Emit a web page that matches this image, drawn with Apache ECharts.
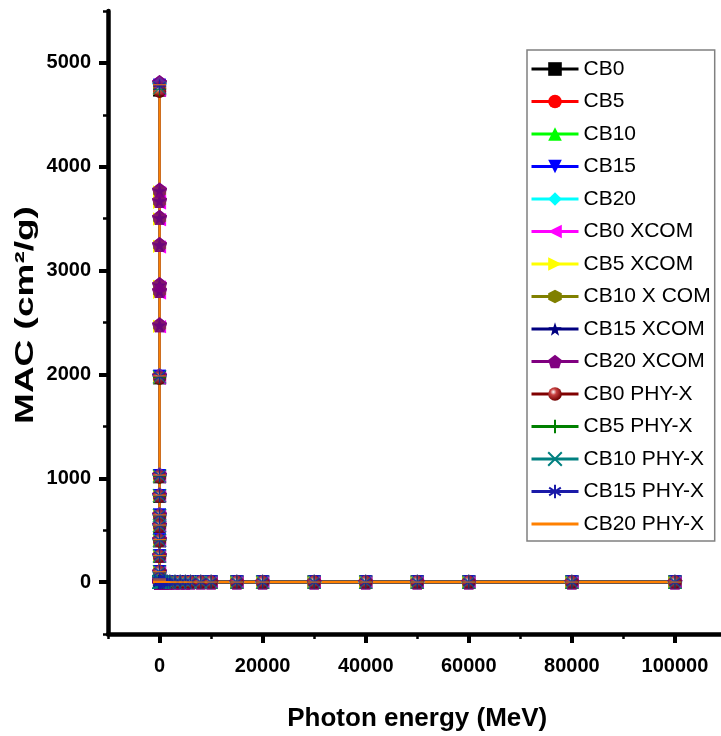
<!DOCTYPE html>
<html><head><meta charset="utf-8">
<script src="https://cdn.jsdelivr.net/npm/echarts@6/dist/echarts.min.js"></script>
<style>html,body{margin:0;padding:0;background:#fff}#c{width:721px;height:736px}</style>
</head><body><div id="c"></div>
<script>
// Photon energies (MeV) used by measured / PHY-X series
const energyGrid = [0.001,0.0015,0.002,0.003,0.004,0.005,0.006,0.008,0.01,0.015,0.02,0.03,0.04,0.05,0.06,0.08,
  0.1,0.15,0.2,0.3,0.4,0.5,0.6,0.8,1,1.25,1.5,2,3,4,5,6,8,10,15,20,30,40,50,60,80,100,
  150,200,300,400,500,600,800,1000,1500,2000,3000,4000,5000,6000,8000,10000,
  15000,20000,30000,40000,50000,60000,80000,100000];
// XCOM low-energy grid (includes absorption-edge energies)
const xcomLowEnergy = [0.001,0.0010721,0.0010721,0.00125,0.0013,0.001305,0.001305,0.0014,0.0015,0.002,0.003,0.004,0.005,0.006,0.008,0.01,0.015,0.02,0.03,0.04,0.05,0.06,0.08];
// MAC values (cm2/g) for E >= 0.1 MeV (all samples practically identical on this scale)
const tailMAC = [0.35,0.22,0.18,0.14,0.12,0.11,0.10,0.085,0.077,0.069,0.062,0.053,0.043,0.037,0.034,0.031,0.028,0.026,
  0.025,0.024,0.024,0.025,0.025,0.026,0.026,0.027,0.027,0.028,0.028,0.029,0.029,0.029,0.029,0.030,
  0.030,0.030,0.030,0.030,0.031,0.031,0.031,0.031,0.031,0.031,0.031,0.031,0.031,0.031,0.031,0.031];
// Low-energy MAC (E = 0.001 ... 0.08 MeV)
const cb0  = [4740,1968,1015,826,636,538,398,248,96,30,12.5,4.0,1.95,1.18,0.82,0.49];
const cb5  = [4755,1972,1019,829,639,541,401,250,97,30,12.4,3.9,1.94,1.17,0.82,0.49];
const cb10 = [4770,1978,1023,832,642,544,404,252,98,29.5,12.3,3.9,1.92,1.16,0.81,0.48];
const cb15 = [4785,1982,1027,835,645,547,407,254,99,29.2,12.2,3.8,1.91,1.15,0.81,0.48];
const cb20 = [4800,1987,1031,838,648,550,410,256,100,29,12.1,3.8,1.90,1.14,0.80,0.48];
const cb0Xcom  = [4735,3748,3650,3490,3228,2842,2785,2458,1962,1012,824,634,536,396,247,95.5,30,12.5,4.0,1.95,1.18,0.82,0.49];
const cb5Xcom  = [4752,3756,3658,3497,3235,2848,2791,2463,1970,1018,828,638,540,400,249,96.5,30,12.4,3.9,1.94,1.17,0.82,0.49];
const cb10Xcom = [4768,3762,3664,3502,3241,2854,2797,2468,1976,1022,831,641,543,403,251,97.5,29.5,12.3,3.9,1.92,1.16,0.81,0.48];
const cb15Xcom = [4784,3768,3670,3507,3246,2860,2802,2473,1981,1027,834,644,546,406,253,98.5,29.2,12.2,3.8,1.91,1.15,0.81,0.48];
const cb20Xcom = [4812,3775,3676,3513,3252,2866,2808,2479,1986,1031,838,648,550,410,256,100,29,12.1,3.8,1.90,1.14,0.80,0.48];
const cb0Phy  = [4728,1965,1013,825,635,537,397,247,96,30,12.5,4.0,1.95,1.18,0.82,0.49];
const cb5Phy  = [4745,1970,1018,828,638,540,400,249,97,30,12.4,3.9,1.94,1.17,0.82,0.49];
const cb10Phy = [4760,1976,1022,831,641,543,403,251,98,29.5,12.3,3.9,1.92,1.16,0.81,0.48];
const cb15Phy = [4776,1980,1026,834,644,546,406,253,99,29.2,12.2,3.8,1.91,1.15,0.81,0.48];
const cb20Phy = [4790,1985,1030,837,647,549,409,255,100,29,12.1,3.8,1.90,1.14,0.80,0.48];

const seriesNames = ['CB0','CB5','CB10','CB15','CB20','CB0 XCOM','CB5 XCOM','CB10 X COM','CB15 XCOM','CB20 XCOM',
  'CB0 PHY-X','CB5 PHY-X','CB10 PHY-X','CB15 PHY-X','CB20 PHY-X'];
const xTicks = [0,20000,40000,60000,80000,100000];
const yTicks = [0,1000,2000,3000,4000,5000];
const xTitle = 'Photon energy (MeV)';
const yTitle = 'MAC (cm²/g)';

const SANS = '"Liberation Sans", Arial, sans-serif';

const xcomEnergy = xcomLowEnergy.concat(energyGrid.slice(16));
function pairs(E, low){ const v = low.concat(tailMAC); return E.map((e,i)=>[e, v[i]]); }

const sphere = {type:'radial', x:0.38, y:0.35, r:0.65, colorStops:[{offset:0,color:'#ffffff'},{offset:0.35,color:'#c84040'},{offset:1,color:'#700000'}]};
const styles = [
  {sym:'rect', c:'#000000'},
  {sym:'circle', c:'#ff0000'},
  {sym:'triangle', c:'#00ff00'},
  {sym:'path://M0,0 L10,0 L5,10 Z', c:'#0000ff'},
  {sym:'diamond', c:'#00ffff', size:15},
  {sym:'path://M0,5 L10,0 L10,10 Z', c:'#ff00ff'},
  {sym:'path://M0,0 L10,5 L0,10 Z', c:'#ffff00'},
  {sym:'path://M5,0 L10,2.6 L10,7.4 L5,10 L0,7.4 L0,2.6 Z', c:'#808000'},
  {sym:'path://M50,0 L61.8,35.1 L98.9,35.1 L69.1,57.3 L79.4,92.7 L50,71.4 L20.6,92.7 L30.9,57.3 L1.1,35.1 L38.2,35.1 Z', c:'#000080', size:14},
  {sym:'path://M50,0 L97.6,34.5 L79.4,90.5 L20.6,90.5 L2.4,34.5 Z', c:'#800080', size:15},
  {sym:'circle', c:'#800000', fill:sphere},
  {sym:'path://M5,0 L5,10 M0,5 L10,5', c:'#008000', stroke:true},
  {sym:'path://M0,0 L10,10 M10,0 L0,10', c:'#008080', stroke:true},
  {sym:'path://M5,0 L5,10 M0.7,2.2 L9.3,7.8 M0.7,7.8 L9.3,2.2 M0,5 L10,5', c:'#1a1aa8', stroke:true},
  {sym:'path://M0,0 M0,5 L10,5 M10,10', c:'#ff8000', stroke:true}
];
const dataSets = [
  pairs(energyGrid, cb0), pairs(energyGrid, cb5), pairs(energyGrid, cb10), pairs(energyGrid, cb15), pairs(energyGrid, cb20),
  pairs(xcomEnergy, cb0Xcom), pairs(xcomEnergy, cb5Xcom), pairs(xcomEnergy, cb10Xcom), pairs(xcomEnergy, cb15Xcom), pairs(xcomEnergy, cb20Xcom),
  pairs(energyGrid, cb0Phy), pairs(energyGrid, cb5Phy), pairs(energyGrid, cb10Phy), pairs(energyGrid, cb15Phy), pairs(energyGrid, cb20Phy)
];

function itemStyleOf(s){
  if (s.stroke) return {color:s.c, borderColor:s.c, borderWidth:1.2};
  return {color: s.fill || s.c, borderWidth:0};
}
const series = [];
seriesNames.forEach((n,i)=>{
  const s = styles[i];
  series.push({
    name:n, type:'line', data:dataSets[i], xAxisIndex:0, yAxisIndex:0,
    symbol:s.sym, symbolSize:s.size||13, showSymbol:true, z:2,
    lineStyle:{color:s.c, width:2.5}, itemStyle:itemStyleOf(s), emphasis:{disabled:true}
  });
});
seriesNames.forEach((n,i)=>{
  const s = styles[i];
  series.push({
    name:n, type:'scatter', data:dataSets[i], xAxisIndex:0, yAxisIndex:0,
    symbol:s.sym, symbolSize:s.size||13, z:3,
    itemStyle:itemStyleOf(s), emphasis:{disabled:true}
  });
});

// main plot rectangle
const W = 721, H = 736, L = 108, R = 726.5, T = 11, B = 634;
const xMin = -10000, xMax = 110000, yMin = -500, yMax = 5500;
const px = v => L + (v - xMin) / (xMax - xMin) * (R - L);
const py = v => B - (v - yMin) / (yMax - yMin) * (B - T);

const plain = v => String(v);
const hidden = {show:false};
const clearLine = {show:true, onZero:false, lineStyle:{color:'rgba(0,0,0,0)', width:1}};
const chart = echarts.init(document.getElementById('c'), null, {renderer:'canvas'});
chart.setOption({
  animation:false,
  backgroundColor:'#fff',
  grid:[
    {left:L, right:W - R, top:T, bottom:H - B, outerBoundsMode:'none'},
    // grid carrying the major y ticks (0..5000)
    {left:L, right:W - R, top:py(5000), bottom:H - py(0), outerBoundsMode:'none'},
    // grid carrying the major x ticks (0..100000)
    {left:px(0), right:W - px(100000), top:T, bottom:H - B, outerBoundsMode:'none'}
  ],
  legend:{
    orient:'vertical', left:527, top:50, data:seriesNames, selectedMode:false,
    itemWidth:47, itemHeight:17, itemGap:8.5, itemTextGap:6,
    padding:[7,4,5,3], borderColor:'#808080', borderWidth:1.5,
    lineStyle:{width:3},
    textStyle:{fontFamily:SANS, fontSize:21, color:'#000', lineHeight:24}
  },
  graphic:[{
    type:'text', x:26, y:315, rotation:Math.PI/2, scaleX:1, scaleY:0.68, silent:true,
    style:{text:yTitle, font:'bold 37px "Liberation Sans", Arial, sans-serif', fill:'#000', align:'center', verticalAlign:'middle'}
  }],
  xAxis:[{
    gridIndex:0, type:'value', min:xMin, max:xMax, interval:10000, position:'bottom',
    name:xTitle, nameLocation:'middle', nameGap:72, nameMoveOverlap:false,
    nameTextStyle:{fontFamily:SANS, fontWeight:'bold', fontSize:26, color:'#000'},
    axisLine:{onZero:false, lineStyle:{color:'#000', width:4.5}},
    axisTick:{show:true, inside:false, length:5, lineStyle:{color:'#000', width:2.5}},
    axisLabel:{customValues:xTicks, formatter:plain, fontFamily:SANS, fontWeight:'bold', fontSize:20, color:'#000', margin:22},
    splitLine:hidden
  },{
    gridIndex:1, type:'value', min:xMin, max:xMax, show:false
  },{
    gridIndex:2, type:'value', min:0, max:100000, interval:20000, position:'bottom',
    axisLine:clearLine, axisLabel:hidden, splitLine:hidden,
    axisTick:{show:true, inside:false, length:9, lineStyle:{color:'#000', width:4}}
  }],
  yAxis:[{
    gridIndex:0, type:'value', min:yMin, max:yMax, interval:500, position:'left',
    axisLine:{onZero:false, lineStyle:{color:'#000', width:4.5}},
    axisTick:{show:true, inside:false, length:5, lineStyle:{color:'#000', width:2.5}},
    axisLabel:{customValues:yTicks, formatter:plain, fontFamily:SANS, fontWeight:'bold', fontSize:20, color:'#000', margin:17},
    splitLine:hidden
  },{
    gridIndex:1, type:'value', min:0, max:5000, interval:1000, position:'left',
    axisLine:clearLine, axisLabel:hidden, splitLine:hidden,
    axisTick:{show:true, inside:false, length:9, lineStyle:{color:'#000', width:4}}
  },{
    gridIndex:2, type:'value', min:yMin, max:yMax, show:false
  }],
  series:series
});
</script></body></html>
